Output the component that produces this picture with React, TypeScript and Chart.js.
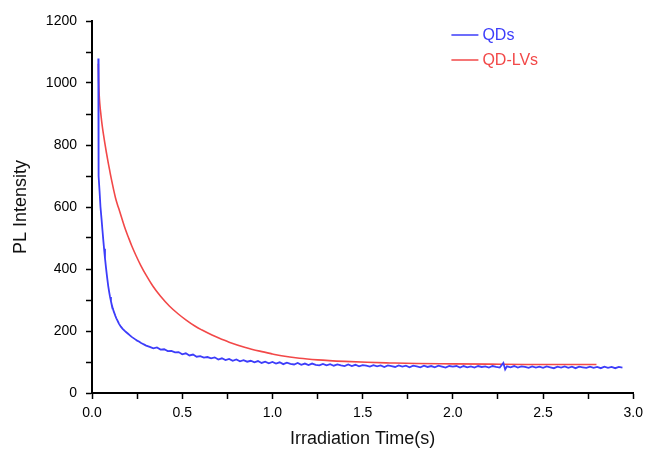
import React, { useEffect, useRef } from 'react';
import { Chart, registerables } from 'chart.js';

Chart.register(...registerables);

const seriesNames = ['QDs', 'QD-LVs'];
const seriesColors = ['#3d3dfa', '#f24848'];

const xAxisTitle = 'Irradiation Time(s)';
const yAxisTitle = 'PL Intensity';
const xMin = 0, xMax = 3, xStep = 0.25;
const yMin = 0, yMax = 1200, yStep = 100;

// QDs (blue)
const qdTime = [
  0.035, 0.0355, 0.036, 0.038, 0.042, 0.047, 0.053, 0.058, 0.062, 0.067, 0.072, 0.078, 0.084,
  0.09, 0.096, 0.1, 0.105, 0.11, 0.115, 0.12, 0.125, 0.13, 0.135, 0.14, 0.145, 0.15, 0.16, 0.17, 0.18,
  0.19, 0.2, 0.21, 0.22, 0.23, 0.24, 0.25, 0.26, 0.27, 0.28, 0.29, 0.3,
  0.32, 0.34, 0.36, 0.38, 0.40, 0.42, 0.44, 0.46, 0.48, 0.50, 0.52, 0.54, 0.56, 0.58, 0.60, 0.62, 0.64,
  0.66, 0.68, 0.70, 0.72, 0.74, 0.76, 0.78, 0.80, 0.82, 0.84, 0.86, 0.88, 0.90, 0.92, 0.94, 0.96, 0.98,
  1.00, 1.02, 1.04, 1.06, 1.08, 1.10, 1.12, 1.14, 1.16, 1.18, 1.20, 1.22, 1.24, 1.26, 1.28, 1.30, 1.32,
  1.34, 1.36, 1.38, 1.40, 1.42, 1.44, 1.46, 1.48, 1.50, 1.52, 1.54, 1.56, 1.58, 1.60, 1.62, 1.64, 1.66,
  1.68, 1.70, 1.72, 1.74, 1.76, 1.78, 1.80, 1.82, 1.84, 1.86, 1.88, 1.90, 1.92, 1.94, 1.96, 1.98, 2.00,
  2.02, 2.04, 2.06, 2.08, 2.10, 2.12, 2.14, 2.16, 2.18, 2.20, 2.22, 2.24, 2.26, 2.28, 2.29, 2.30, 2.32,
  2.34, 2.36, 2.38, 2.40, 2.42, 2.44, 2.46, 2.48, 2.50, 2.52, 2.54, 2.56, 2.58, 2.60, 2.62, 2.64, 2.66,
  2.68, 2.70, 2.72, 2.74, 2.76, 2.78, 2.80, 2.82, 2.84, 2.86, 2.88, 2.90, 2.92, 2.94,
];
const qdPL = [
  1079, 900, 760, 700, 650, 600, 560, 525, 497, 465, 435, 402, 372,
  345, 323, 310, 296, 284, 273, 264, 256, 248, 241, 235, 229, 223, 214, 207, 201,
  196, 191, 186, 181, 177, 173, 169, 166, 162, 159, 156, 153,
  149, 144, 147, 140, 141, 135, 136, 131, 132, 125, 128, 121, 124, 117, 119, 114, 116,
  112, 115, 108, 112, 106, 110, 104, 108, 102, 106, 101, 104, 99, 103, 97, 101, 96,
  100, 95, 99, 93, 98, 94, 92, 97, 91, 95, 90, 95, 91, 89, 94, 89, 93,
  88, 92, 89, 87, 92, 87, 91, 86, 90, 88, 85, 90, 86, 89, 84, 89, 87,
  84, 89, 85, 88, 83, 88, 86, 83, 88, 84, 87, 83, 88, 85, 82, 87, 85,
  87, 82, 87, 83, 86, 82, 87, 84, 86, 82, 87, 84, 82, 97, 76, 86, 83,
  87, 82, 86, 84, 81, 86, 82, 85, 81, 86, 83, 80, 85, 82, 86, 81, 85,
  80, 85, 83, 81, 85, 81, 84, 80, 85, 81, 84, 80, 84, 82,
];

// QD-LVs (red)
const lvTime = [
  0.035, 0.037, 0.04, 0.044, 0.05, 0.056, 0.062, 0.07, 0.08, 0.09, 0.1, 0.108, 0.12, 0.13, 0.14, 0.154,
  0.17, 0.185, 0.2, 0.22, 0.245, 0.27, 0.3, 0.336, 0.38, 0.43, 0.48, 0.52, 0.57, 0.61, 0.665, 0.70,
  0.76, 0.85, 0.93, 1.0, 1.05, 1.15, 1.25, 1.4, 1.525, 1.65, 1.8, 2.0, 2.2, 2.4, 2.6, 2.796,
];
const lvPL = [
  1062, 1005, 960, 928, 895, 865, 840, 810, 775, 742, 712, 688, 655, 630, 610, 585,
  555, 528, 505, 475, 442, 412, 380, 346, 312, 280, 254, 236, 216, 203, 187, 178,
  164, 147, 135, 126, 120, 112, 107, 102, 99, 97, 95, 94, 93, 92, 92, 92,
];

const legendPlugin = {
  id: 'insideLegend',
  afterDraw(chart: any) {
    const { ctx, chartArea } = chart;
    const w = chartArea.right - chartArea.left;
    const x0 = chartArea.left + w * 0.664;
    const rows = [chartArea.top + 14, chartArea.top + 39];
    ctx.save();
    ctx.font = '16px "Liberation Sans", Arial, sans-serif';
    ctx.textBaseline = 'middle';
    seriesNames.forEach((name, i) => {
      const y = rows[i];
      ctx.strokeStyle = seriesColors[i];
      ctx.lineWidth = 1.5;
      ctx.beginPath();
      ctx.moveTo(x0, y);
      ctx.lineTo(x0 + 27, y);
      ctx.stroke();
      ctx.fillStyle = seriesColors[i];
      ctx.fillText(name, x0 + 31, y + 1);
    });
    ctx.restore();
  },
};

export default function App() {
  const ref = useRef<HTMLCanvasElement | null>(null);
  useEffect(() => {
    if (!ref.current) return;
    const font = { family: '"Liberation Sans", Arial, sans-serif', size: 14 };
    const chart = new Chart(ref.current, {
      type: 'line',
      data: {
        datasets: [
          {
            label: seriesNames[0],
            data: qdTime.map((t, i) => ({ x: t, y: qdPL[i] })),
            borderColor: seriesColors[0],
            borderWidth: 1.8,
            pointRadius: 0,
            tension: 0,
          },
          {
            label: seriesNames[1],
            data: lvTime.map((t, i) => ({ x: t, y: lvPL[i] })),
            borderColor: seriesColors[1],
            borderWidth: 1.6,
            pointRadius: 0,
            cubicInterpolationMode: 'monotone',
          },
        ],
      },
      options: {
        animation: false,
        responsive: true,
        maintainAspectRatio: false,
        layout: { padding: { top: 21, right: 10, left: 0, bottom: 0 } },
        plugins: { legend: { display: false }, tooltip: { enabled: false } },
        scales: {
          x: {
            type: 'linear',
            min: xMin,
            max: xMax,
            afterFit: (s: any) => { s.height = 60; },
            ticks: {
              stepSize: xStep,
              autoSkip: false,
              maxRotation: 0,
              padding: 6,
              color: '#000',
              font,
              callback: (v: any) => (Math.round(Number(v) * 100) % 50 === 0 ? Number(v).toFixed(1) : ''),
            },
            grid: { drawOnChartArea: false, drawTicks: true, tickLength: 6, tickColor: '#000', tickWidth: 1.5 },
            border: { display: true, color: '#000', width: 2 },
            title: { display: true, text: xAxisTitle, color: '#111', font: { ...font, size: 18 }, padding: { top: 0, bottom: 3 } },
          },
          y: {
            type: 'linear',
            min: yMin,
            max: yMax,
            afterFit: (s: any) => { s.width = 92; },
            ticks: {
              stepSize: yStep,
              autoSkip: false,
              padding: 9,
              color: '#000',
              font,
              callback: (v: any) => (Number(v) % 200 === 0 ? String(v) : ''),
            },
            grid: { drawOnChartArea: false, drawTicks: true, tickLength: 6, tickColor: '#000', tickWidth: 1.5 },
            border: { display: true, color: '#000', width: 2 },
            title: { display: true, text: yAxisTitle, color: '#111', font: { ...font, size: 18 }, padding: { top: 10, bottom: 0 } },
          },
        },
      },
      plugins: [legendPlugin],
    });
    return () => chart.destroy();
  }, []);
  return (
    <div style={{ position: 'absolute', left: 0, top: 0, width: 649, height: 453, background: '#fff' }}>
      <canvas ref={ref} />
    </div>
  );
}
